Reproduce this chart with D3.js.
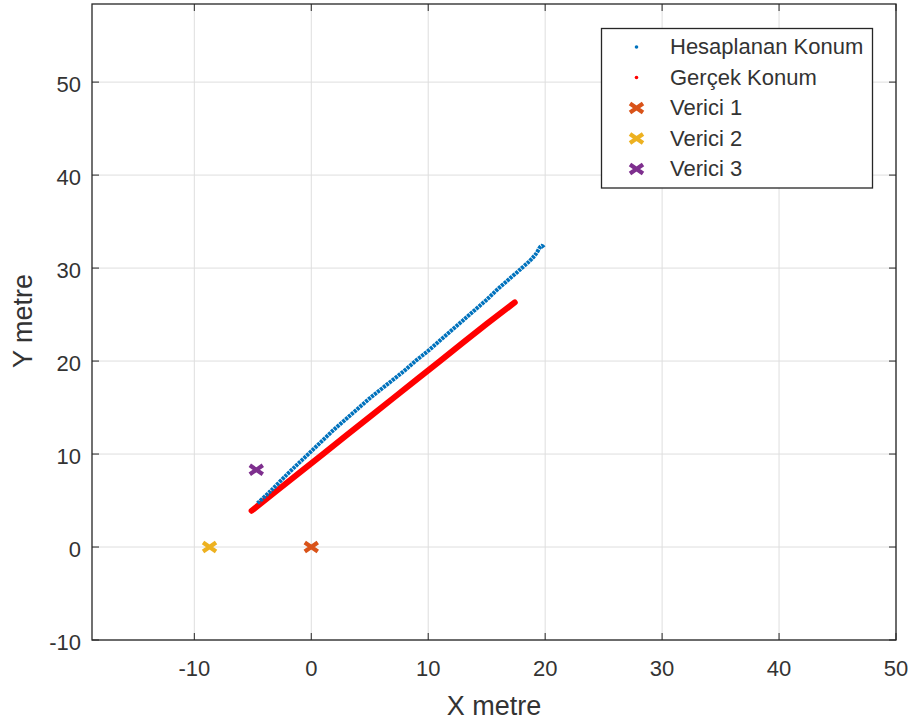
<!DOCTYPE html>
<html>
<head>
<meta charset="utf-8">
<script src="https://cdn.jsdelivr.net/npm/d3@7"></script>
<style>
  body { margin: 0; background: #fff; }
  text { font-family: "Liberation Sans", Arial, sans-serif; fill: #333333; }
</style>
</head>
<body>
<div id="chart"></div>
<script>
// estimated positions (metres)
var hesapX = [-4.6, -3.5, -2, -1, 0, 1, 2, 3, 4, 5, 6, 7, 8, 9, 10, 11, 12, 13, 14, 15, 16, 17, 18, 18.7, 19.2, 19.7, 19.9]
var hesapY = [4.7, 6.0, 7.9, 9.1, 10.3, 11.5, 12.7, 13.8, 14.9, 16.0, 17.0, 18.0, 19.0, 20.1, 21.1, 22.2, 23.3, 24.4, 25.5, 26.6, 27.8, 28.9, 30.0, 30.8, 31.5, 32.4, 32.2]
var gercekX = [-5.1, -3, -1, 1, 3, 5, 7, 9, 11, 13, 15, 17.4]
var gercekY = [3.9, 6.0, 8.0, 10.0, 12.0, 14.0, 16.0, 18.0, 20.0, 22.0, 24.0, 26.3]
var vericiNames = ["Verici 1", "Verici 2", "Verici 3"]
var vericiX = [0, -8.7, -4.7]
var vericiY = [0, 0, 8.3]
var vericiColors = ["#D95319", "#EDB120", "#7E2F8E"]
var xTicks = [-10, 0, 10, 20, 30, 40, 50]
var yTicks = [-10, 0, 10, 20, 30, 40, 50]

var width = 917, height = 721
var margin = {left: 92, right: 21, top: 4, bottom: 81}

var svg = d3.select("#chart").append("svg")
    .attr("width", width)
    .attr("height", height)

var x = d3.scaleLinear().domain([-18.75, 50]).range([margin.left, width - margin.right])
var y = d3.scaleLinear().domain([-10, 58.4]).range([height - margin.bottom, margin.top])

var x0 = x.range()[0], x1 = x.range()[1]
var y0 = y.range()[0], y1 = y.range()[1]

// grid
svg.append("g").selectAll("line").data(xTicks).enter().append("line")
  .attr("x1", d => x(d)).attr("x2", d => x(d))
  .attr("y1", y1).attr("y2", y0)
  .attr("stroke", "#dedede").attr("stroke-width", 1)
svg.append("g").selectAll("line").data(yTicks).enter().append("line")
  .attr("y1", d => y(d)).attr("y2", d => y(d))
  .attr("x1", x0).attr("x2", x1)
  .attr("stroke", "#dedede").attr("stroke-width", 1)

// true positions (dense red dots)
var gercek = gercekX.map((v, i) => [v, gercekY[i]])
svg.append("path")
  .datum(gercek)
  .attr("d", d3.line().x(d => x(d[0])).y(d => y(d[1])))
  .attr("fill", "none")
  .attr("stroke", "#ff0000")
  .attr("stroke-width", 6)
  .attr("stroke-linecap", "round")

// computed positions
var hesap = hesapX.map((v, i) => [v, hesapY[i]])
svg.append("path")
  .datum(hesap)
  .attr("d", d3.line().curve(d3.curveCatmullRom).x(d => x(d[0])).y(d => y(d[1])))
  .attr("fill", "none")
  .attr("stroke", "#0072BD")
  .attr("stroke-width", 4)
  .attr("stroke-dasharray", "3,0.8")

var xMark = function(cx, cy) {
  return "M" + (cx - 6.5) + "," + (cy - 4.5) + "L" + (cx + 6.5) + "," + (cy + 4.5) +
         "M" + (cx - 6.5) + "," + (cy + 4.5) + "L" + (cx + 6.5) + "," + (cy - 4.5)
}

// transmitters
svg.append("g").selectAll("path").data(vericiNames).enter().append("path")
  .attr("d", (d, i) => xMark(x(vericiX[i]), y(vericiY[i])))
  .attr("stroke", (d, i) => vericiColors[i])
  .attr("stroke-width", 4.2)
  .attr("fill", "none")

// axes box with inward ticks
var axisCol = "#262626"
svg.append("rect")
  .attr("x", x0).attr("y", y1)
  .attr("width", x1 - x0).attr("height", y0 - y1)
  .attr("fill", "none").attr("stroke", axisCol).attr("stroke-width", 1.3)

var tl = 7
xTicks.forEach(function(t) {
  svg.append("line").attr("x1", x(t)).attr("x2", x(t)).attr("y1", y0).attr("y2", y0 - tl).attr("stroke", axisCol)
  svg.append("line").attr("x1", x(t)).attr("x2", x(t)).attr("y1", y1).attr("y2", y1 + tl).attr("stroke", axisCol)
  svg.append("text").attr("x", x(t)).attr("y", y0 + 36)
    .attr("text-anchor", "middle").style("font-size", "22px").text(t)
})
yTicks.forEach(function(t) {
  svg.append("line").attr("y1", y(t)).attr("y2", y(t)).attr("x1", x0).attr("x2", x0 + tl).attr("stroke", axisCol)
  svg.append("line").attr("y1", y(t)).attr("y2", y(t)).attr("x1", x1).attr("x2", x1 - tl).attr("stroke", axisCol)
  svg.append("text").attr("x", x0 - 11).attr("y", y(t) + 10)
    .attr("text-anchor", "end").style("font-size", "22px").text(t)
})

// axis labels
svg.append("text").attr("x", (x0 + x1) / 2).attr("y", 715)
  .attr("text-anchor", "middle").style("font-size", "27px").text("X metre")
svg.append("text").attr("transform", "translate(32," + 321 + ") rotate(-90)")
  .attr("text-anchor", "middle").style("font-size", "27px").text("Y metre")

// legend
var lg = svg.append("g")
lg.append("rect").attr("x", 601.5).attr("y", 28.5).attr("width", 271).attr("height", 159.5)
  .attr("fill", "#fff").attr("stroke", axisCol).attr("stroke-width", 1.3)
var rows = [54, 84.5, 115, 145.5, 176]
var labels = ["Hesaplanan Konum", "Gerçek Konum"].concat(vericiNames)
labels.forEach(function(l, i) {
  var ry = rows[i]
  if (i == 0) lg.append("circle").attr("cx", 636.5).attr("cy", ry - 7).attr("r", 1.8).attr("fill", "#0072BD")
  else if (i == 1) lg.append("circle").attr("cx", 636.5).attr("cy", ry - 7).attr("r", 1.8).attr("fill", "#ff0000")
  else lg.append("path").attr("d", xMark(636.5, ry - 7)).attr("stroke", vericiColors[i - 2])
    .attr("stroke-width", 4.2).attr("fill", "none")
  lg.append("text").attr("x", 670).attr("y", ry).style("font-size", "22px").text(l)
})
</script>
</body>
</html>
